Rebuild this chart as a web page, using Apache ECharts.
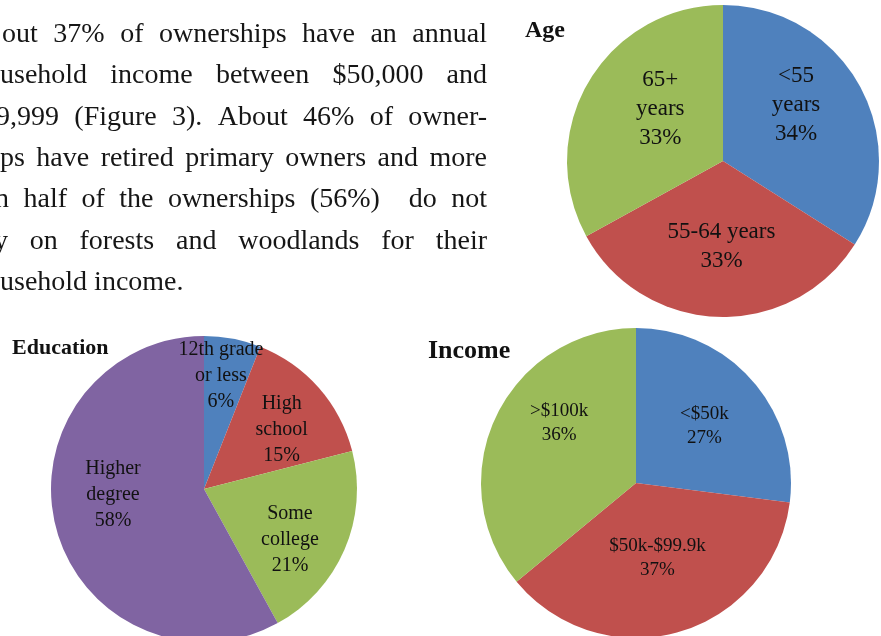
<!DOCTYPE html>
<html lang="en">
<head>
<meta charset="UTF-8">
<title>Ownership characteristics</title>
<script src="https://cdn.jsdelivr.net/npm/echarts@6/dist/echarts.min.js"></script>
<style>
    html, body { margin: 0; padding: 0; background: #fff; }
    #main { width: 881px; height: 636px; }
</style>
</head>
<body>
<div id="main"></div>
<script>
// data
var ageNames = ['<55\nyears', '55-64 years', '65+\nyears'];
var ageValues = [34, 33, 33];
var eduNames = ['12th grade\nor less', 'High\nschool', 'Some\ncollege', 'Higher\ndegree'];
var eduValues = [6, 15, 21, 58];
var incomeNames = ['<$50k', '$50k-$99.9k', '>$100k'];
var incomeValues = [27, 37, 36];

// paragraph beside the figure (cut off on the left in the source)
var textLines = [
    'out 37% of ownerships have an annual',
    'usehold income between $50,000 and',
    '9,999 (Figure 3). About 46% of owner-',
    'ps have retired primary owners and more',
    'n half of the ownerships (56%)  do not',
    'y on forests and woodlands for their',
    'usehold income.'
];

// styling
var sliceColors3 = ['#4F81BD', '#C0504D', '#9BBB59'];
var sliceColors4 = ['#4F81BD', '#C0504D', '#9BBB59', '#8064A2'];
var serif = "'Liberation Serif', 'DejaVu Serif', serif";
// label nudges [dx, dy] from the default inside position
var ageShift = [[2, -17], [1, 4], [7, -11]];
var eduShift = [[2, -35], [18, -7], [13, 19], [-14, -14]];
var incomeShift = [[8, -4], [-1, -2], [-4, -26]];
var lineStart = [2, 0, -4, 0, -5, -6, 0];

function pieData(names, values, colors) {
    return names.map(function (n, i) {
        return { name: n, value: values[i], itemStyle: { color: colors[i] } };
    });
}

function pieSeries(center, radius, data, shifts, fontSize, lineHeight) {
    return {
        type: 'pie',
        center: center,
        radius: radius,
        startAngle: 90,
        clockwise: true,
        silent: true,
        avoidLabelOverlap: false,
        itemStyle: { borderWidth: 0 },
        label: {
            show: true,
            position: 'inside',
            formatter: '{b}\n{c}%',
            color: '#111',
            fontFamily: serif,
            fontSize: fontSize,
            lineHeight: lineHeight,
            align: 'center'
        },
        labelLine: { show: false },
        labelLayout: function (p) {
            var s = shifts[p.dataIndex];
            return { dx: s[0], dy: s[1], hideOverlap: false };
        },
        emphasis: { disabled: true },
        data: data
    };
}

// justified paragraph: one text element per word
var ctx = document.createElement('canvas').getContext('2d');
var paraFont = '28px ' + serif;
ctx.font = paraFont;
var rightEdge = 487;
var graphics = [];
textLines.forEach(function (line, li) {
    var words = line.split(' ');
    var widths = words.map(function (w) { return ctx.measureText(w).width; });
    var total = widths.reduce(function (a, b) { return a + b; }, 0);
    var last = li === textLines.length - 1;
    var gap = last ? ctx.measureText(' ').width
        : (rightEdge - lineStart[li] - total) / (words.length - 1);
    var x = lineStart[li];
    var y = 44 + li * 41.4 - 9.5;
    words.forEach(function (w, wi) {
        if (w) {
            graphics.push({
                type: 'text', x: x, y: y, silent: true,
                style: { text: w, font: paraFont, fill: '#161616', verticalAlign: 'middle' }
            });
        }
        x += widths[wi] + gap;
    });
});

// chart titles
graphics.push({ type: 'text', x: 525, y: 31, silent: true,
    style: { text: 'Age', font: 'bold 24px ' + serif, fill: '#111', verticalAlign: 'middle' } });
graphics.push({ type: 'text', x: 12, y: 348, silent: true,
    style: { text: 'Education', font: 'bold 22px ' + serif, fill: '#111', verticalAlign: 'middle' } });
graphics.push({ type: 'text', x: 428, y: 351, silent: true,
    style: { text: 'Income', font: 'bold 26px ' + serif, fill: '#111', verticalAlign: 'middle' } });

var myChart = echarts.init(document.getElementById('main'));
myChart.setOption({
    animation: false,
    backgroundColor: '#fff',
    graphic: graphics,
    series: [
        pieSeries([723, 161], 156, pieData(ageNames, ageValues, sliceColors3), ageShift, 23, 29),
        pieSeries([204, 489], 153, pieData(eduNames, eduValues, sliceColors4), eduShift, 20, 26),
        pieSeries([636, 483], 155, pieData(incomeNames, incomeValues, sliceColors3), incomeShift, 19, 24)
    ]
});
</script>
</body>
</html>
